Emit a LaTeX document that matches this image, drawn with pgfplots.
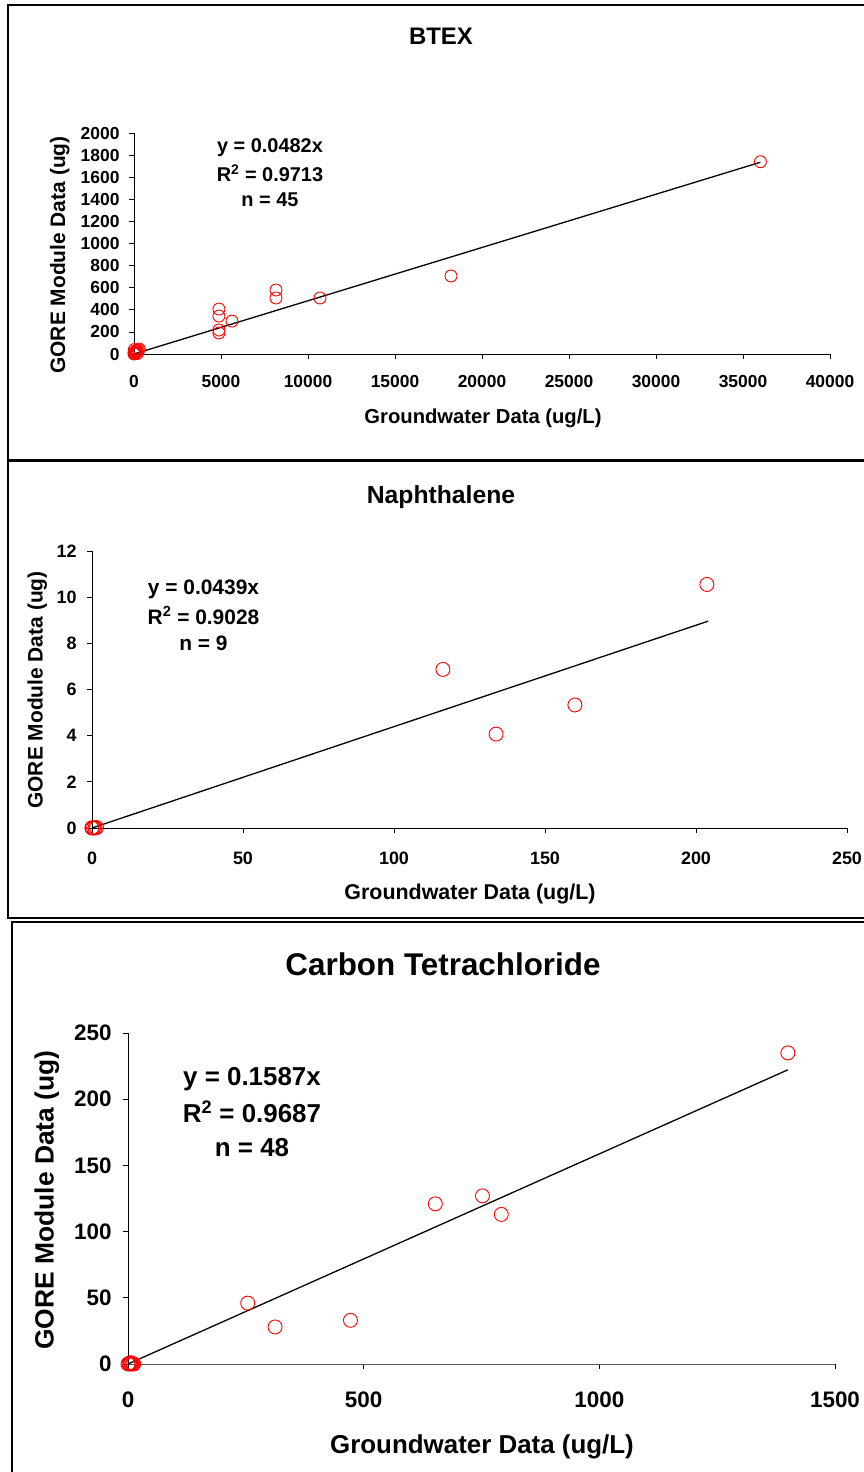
\documentclass[border=0pt]{standalone}
\usepackage{fontspec}
\setmainfont{Liberation Sans}
\usepackage{pgfplots}
\pgfplotsset{compat=1.18}

\newcommand{\fs}[1]{\fontsize{#1}{#1}\selectfont\bfseries}

\pgfplotsset{
  gore/.style={
    scale only axis, anchor=south west,
    axis x line*=bottom, axis y line*=left,
    tick align=outside, major tick length=5bp,
    every tick/.style={black, line width=0.8bp},
    axis line style={black, line width=0.8bp},
    scaled ticks=false,
    /pgf/number format/1000 sep={},
    /pgf/number format/assume math mode=true,
    clip=false,
  },
  pts/.style={only marks, mark=o, mark size=#1,
    mark options={draw=red, line width=0.9bp}},
  fit/.style={black, line width=1.3bp, no marks},
}

\begin{document}
\begin{tikzpicture}
\path[use as bounding box] (0,0) rectangle (864bp,-1472bp);

% panel frames
\draw[line width=1.2bp] (8bp,-5bp) rectangle (880bp,-460bp);
\draw[line width=1.2bp] (8bp,-461bp) rectangle (880bp,-918bp);
\draw[line width=1.2bp] (12bp,-922bp) rectangle (880bp,-1490bp);

% ---------- BTEX ----------
\begin{axis}[gore, at={(134bp,-354bp)}, width=696bp, height=221bp,
  xmin=0, xmax=40000, ymin=0, ymax=2000,
  xtick={0,5000,...,40000}, ytick={0,200,...,2000},
  ticklabel style={font=\fs{17.5}},
  xticklabel style={yshift=-13bp}, yticklabel style={xshift=-6bp}]
\addplot[pts=6bp] coordinates {
  (0,0) (50,5) (100,12) (150,20) (200,28) (250,36) (300,45)
  (100,30) (0,15) (200,5) (20,40)
  (4880,407) (4880,344) (4880,217) (4880,190) (5630,298)
  (8160,579) (8160,507) (10690,507) (18220,706) (36000,1740)
};
\addplot[fit] coordinates {(0,0) (36000,1735.2)};
\end{axis}
\node[font=\fs{24}, anchor=base] at (441bp,-44.5bp) {BTEX};
\node[font=\fs{20.3}, anchor=base] at (483bp,-423bp) {Groundwater Data (ug/L)};
\node[font=\fs{21}, anchor=base, rotate=90] at (65bp,-255bp) {GORE Module Data (ug)};
\node[font=\fs{20}, anchor=base] at (270bp,-152bp) {y = 0.0482x};
\node[font=\fs{20}, anchor=base] at (270bp,-181.5bp) {R\textsuperscript{2} = 0.9713};
\node[font=\fs{20}, anchor=base] at (270bp,-206bp) {n = 45};

% ---------- Naphthalene ----------
\begin{axis}[gore, at={(92bp,-828bp)}, width=755bp, height=277bp,
  xmin=0, xmax=250, ymin=0, ymax=12,
  xtick={0,50,...,250}, ytick={0,2,...,12},
  ticklabel style={font=\fs{18}},
  xticklabel style={yshift=-15bp}, yticklabel style={xshift=-7bp}]
\addplot[pts=7bp] coordinates {
  (0,0) (0.5,0) (1,0) (1.5,0.02) (0,0.01)
  (116.2,6.87) (133.8,4.07) (159.9,5.33) (203.6,10.55)
};
\addplot[fit] coordinates {(0,0) (204,8.96)};
\end{axis}
\node[font=\fs{24.8}, anchor=base] at (441bp,-503bp) {Naphthalene};
\node[font=\fs{21.5}, anchor=base] at (470bp,-899.5bp) {Groundwater Data (ug/L)};
\node[font=\fs{21}, anchor=base, rotate=90] at (42.5bp,-690bp) {GORE Module Data (ug)};
\node[font=\fs{21}, anchor=base] at (203.5bp,-594bp) {y = 0.0439x};
\node[font=\fs{21}, anchor=base] at (203.5bp,-624bp) {R\textsuperscript{2} = 0.9028};
\node[font=\fs{21}, anchor=base] at (203.5bp,-650bp) {n = 9};

% ---------- Carbon Tetrachloride ----------
\begin{axis}[gore, at={(128bp,-1364bp)}, width=707bp, height=331bp,
  xmin=0, xmax=1500, ymin=0, ymax=250,
  xtick={0,500,...,1500}, ytick={0,50,...,250},
  x axis line style={gray!70!black},
  ticklabel style={font=\fs{22.5}},
  xticklabel style={yshift=-19bp}, yticklabel style={xshift=-8bp}]
\addplot[pts=7bp] coordinates {
  (0,0) (2,0.3) (4,0) (6,0.5) (8,0) (10,0.3) (12,0) (5,1)
  (254,46) (312,28) (472,33) (652,121) (752,127) (792,113) (1400,235)
};
\addplot[fit] coordinates {(0,0) (1400,222.2)};
\end{axis}
\node[font=\fs{31.5}, anchor=base] at (443bp,-975bp) {Carbon Tetrachloride};
\node[font=\fs{26}, anchor=base] at (482bp,-1453bp) {Groundwater Data (ug/L)};
\node[font=\fs{26.5}, anchor=base, rotate=90] at (53.5bp,-1200bp) {GORE Module Data (ug)};
\node[font=\fs{26}, anchor=base] at (252bp,-1085bp) {y = 0.1587x};
\node[font=\fs{26}, anchor=base] at (252bp,-1122.5bp) {R\textsuperscript{2} = 0.9687};
\node[font=\fs{26}, anchor=base] at (252bp,-1156.5bp) {n = 48};
\end{tikzpicture}
\end{document}
